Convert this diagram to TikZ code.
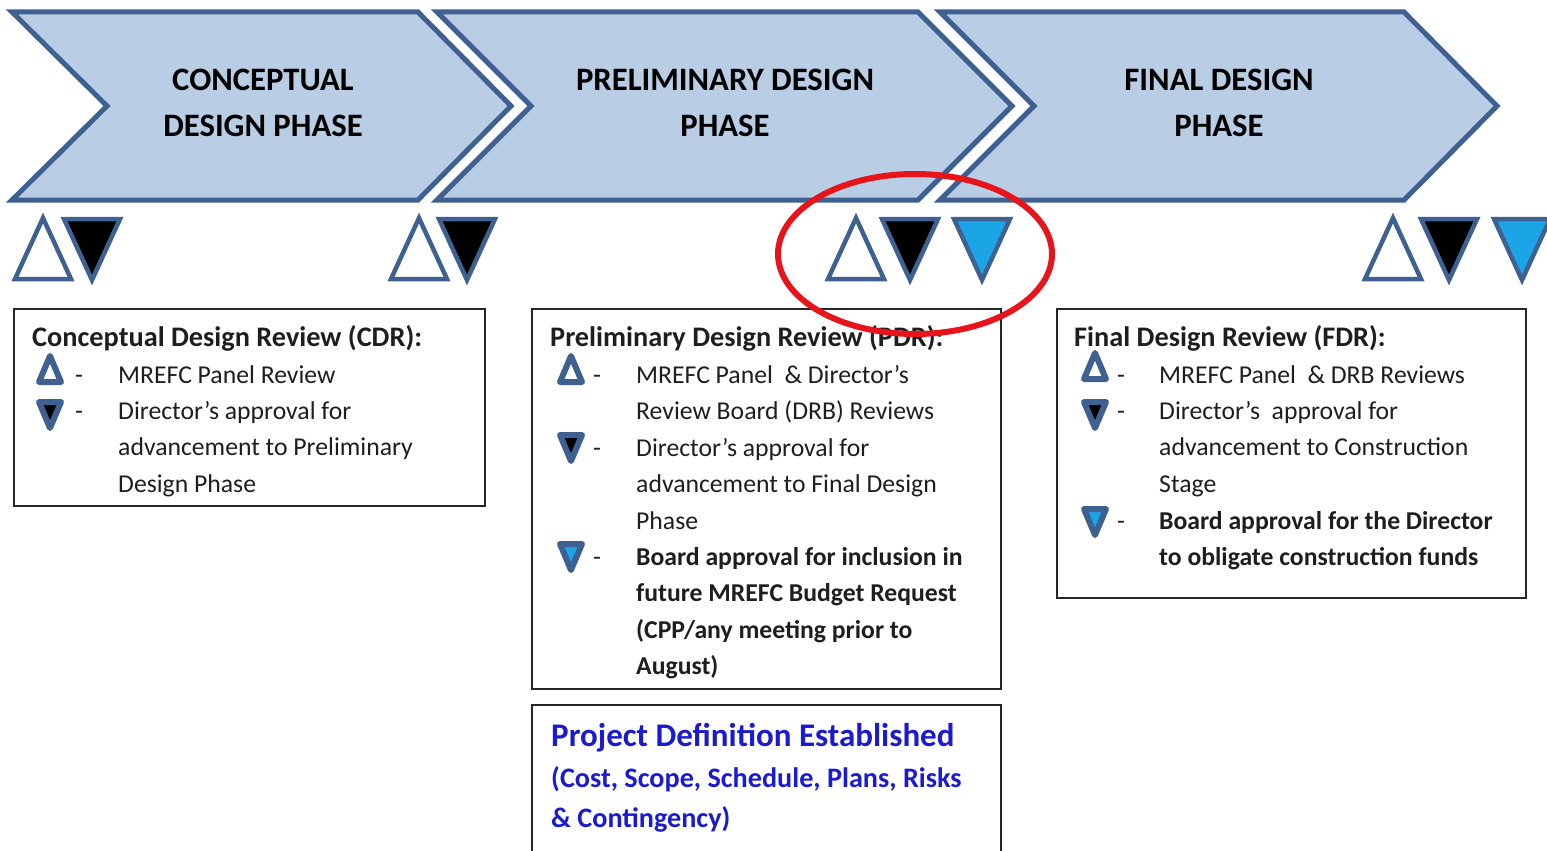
\documentclass[tikz,border=0pt]{standalone}
\usepackage{fontspec}
\setmainfont{Carlito}
\definecolor{chevfill}{HTML}{B9CDE5}
\definecolor{chevline}{HTML}{3E6191}
\definecolor{cyanfill}{HTML}{1CA5E6}
\definecolor{ringred}{HTML}{E8141C}
\definecolor{pdblue}{HTML}{1A1ACF}
\definecolor{bodytext}{HTML}{1E1E1E}
\begin{document}
\begin{tikzpicture}[x=1pt,y=-1pt,
  chev/.style={draw=chevline, fill=chevfill, line width=5pt, line join=miter},
  chevtext/.style={font=\bfseries\fontsize{32.7}{46}\selectfont, align=center, inner sep=0pt, text=black},
  boxline/.style={draw=black!85, line width=2.5pt},
  ttl/.style={font=\bfseries\fontsize{28.3}{36.5}\selectfont, anchor=base west, inner sep=0pt, text=bodytext},
  body/.style={font=\fontsize{25.7}{36.5}\selectfont, anchor=base west, inner sep=0pt, align=left, text=bodytext},
  bodyb/.style={font=\bfseries\fontsize{25.7}{36.5}\selectfont, anchor=base west, inner sep=0pt, align=left, text=bodytext},
  dashtxt/.style={font=\fontsize{25.7}{36.5}\selectfont, anchor=base west, inner sep=0pt, text=bodytext},
  pics/bigup/.style={code={\draw[chevline, line width=4.5pt, fill=white] (0,-31) -- (28,30) -- (-28,30) -- cycle;}},
  pics/bigdown/.style={code={\draw[chevline, line width=4.5pt, fill=#1] (-28,-30) -- (28,-30) -- (0,31) -- cycle;}},
  pics/smallup/.style={code={\draw[chevline, line width=6pt, line join=round, fill=white] (0,-13) -- (11,13) -- (-11,13) -- cycle;}},
  pics/smalldown/.style={code={\draw[chevline, line width=6pt, line join=round, fill=#1] (-11,-13) -- (11,-13) -- (0,13) -- cycle;}}
]
\clip (0,0) rectangle (1547,851);
\fill[white] (0,0) rectangle (1547,851);

% chevrons
\draw[chev] (12,12) -- (418,12) -- (511,106) -- (418,200) -- (12,200) -- (107,106) -- cycle;
\draw[chev] (437,12) -- (918,12) -- (1012,106) -- (918,200) -- (437,200) -- (531,106) -- cycle;
\draw[chev] (940,12) -- (1404,12) -- (1497,106) -- (1404,200) -- (940,200) -- (1034,106) -- cycle;
\node[chevtext] (c1) at (263,103) {CONCEPTUAL\\DESIGN PHASE};
\node[chevtext] (c2) at (725,103) {PRELIMINARY DESIGN\\PHASE};
\node[chevtext] (c3) at (1219,103) {FINAL DESIGN\\PHASE};

% milestone triangles
\pic at (43,249) {bigup};
\pic at (92,249) {bigdown=black};
\pic at (419,249) {bigup};
\pic at (467,249) {bigdown=black};
\pic at (856,249) {bigup};
\pic at (910,249) {bigdown=black};
\pic at (982,249) {bigdown=cyanfill};
\pic at (1393,249) {bigup};
\pic at (1449,249) {bigdown=black};
\pic at (1522,249) {bigdown=cyanfill};

% boxes
\draw[boxline] (14,309) rectangle (485,506);
\draw[boxline] (532,309) rectangle (1001,689);
\draw[boxline] (1057,309) rectangle (1526,598);
\draw[boxline] (532,870) -- (532,705) -- (1001,705) -- (1001,870);

% CDR box (multi-line nodes: base = last line)
\node[ttl] (t1) at (32,346) {Conceptual Design Review (CDR):};
\pic at (50,369) {smallup};
\pic at (50,415) {smalldown=black};
\node[dashtxt] (d11) at (75,383) {-};
\node[dashtxt] (d12) at (75,419) {-};
\node[body] (b11) at (118,383) {MREFC Panel Review};
\node[body] (b12) at (118,492) {Director’s approval for\\advancement to Preliminary\\Design Phase};

% PDR box
\node[ttl] (t2) at (550,346) {Preliminary Design Review (PDR):};
\pic at (571,369) {smallup};
\pic at (571,448) {smalldown=black};
\pic at (571,557) {smalldown=cyanfill};
\node[dashtxt] (d21) at (593,383) {-};
\node[dashtxt] (d22) at (593,456) {-};
\node[dashtxt] (d23) at (593,565) {-};
\node[body] (b21) at (636,419.5) {MREFC Panel\ \ \& Director’s\\Review Board (DRB) Reviews};
\node[body] (b22) at (636,529) {Director’s approval for\\advancement to Final Design\\Phase};
\node[bodyb] (b23) at (636,674.5) {Board approval for inclusion in\\future MREFC Budget Request\\(CPP/any meeting prior to\\August)};

% FDR box
\node[ttl] (t3) at (1074,346) {Final Design Review (FDR):};
\pic at (1095,366) {smallup};
\pic at (1095,415) {smalldown=black};
\pic at (1095,522) {smalldown=cyanfill};
\node[dashtxt] (d31) at (1117,383) {-};
\node[dashtxt] (d32) at (1117,419) {-};
\node[dashtxt] (d33) at (1117,529) {-};
\node[body] (b31) at (1159,383) {MREFC Panel\ \ \& DRB Reviews};
\node[body] (b32) at (1159,492) {Director’s\ \ approval for\\advancement to Construction\\Stage};
\node[bodyb] (b33) at (1159,565.5) {Board approval for the Director\\to obligate construction funds};

% project definition box
\node[font=\bfseries\fontsize{33}{40}\selectfont, text=pdblue, anchor=base west, inner sep=0pt] (p1) at (551,746) {Project Definition Established};
\node[font=\bfseries\fontsize{28.2}{40}\selectfont, text=pdblue, anchor=base west, inner sep=0pt, align=left] (p2) at (551,827) {(Cost, Scope, Schedule, Plans, Risks\\\& Contingency)};

% red ring
\draw[ringred, line width=6pt] (915,254) ellipse [x radius=137, y radius=80];
\end{tikzpicture}
\end{document}
